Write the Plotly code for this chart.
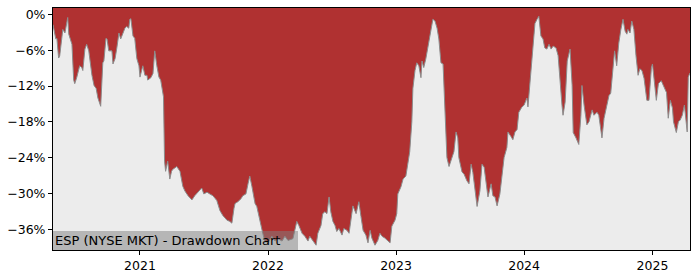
import plotly.graph_objects as go

# Drawdown series (percent)
dates = [
    "2020-04-28", "2020-05-06", "2020-05-09", "2020-05-14", "2020-05-17", "2020-05-23", "2020-05-26",
    "2020-06-01", "2020-06-06", "2020-06-09", "2020-06-12", "2020-06-18", "2020-06-21", "2020-06-26",
    "2020-06-29", "2020-07-05", "2020-07-13", "2020-07-19", "2020-07-22", "2020-07-28", "2020-08-02",
    "2020-08-08", "2020-08-17", "2020-08-23", "2020-08-29", "2020-09-03", "2020-09-11", "2020-09-17",
    "2020-09-20", "2020-09-26", "2020-09-29", "2020-10-04", "2020-10-13", "2020-10-16", "2020-10-22",
    "2020-10-27", "2020-11-02", "2020-11-07", "2020-11-13", "2020-11-19", "2020-11-24", "2020-11-30",
    "2020-12-03", "2020-12-06", "2020-12-12", "2020-12-17", "2020-12-23", "2020-12-29",
    "2021-01-01", "2021-01-06", "2021-01-09", "2021-01-15", "2021-01-21", "2021-01-23", "2021-02-01",
    "2021-02-07", "2021-02-10", "2021-02-12", "2021-02-18", "2021-02-24", "2021-03-01", "2021-03-04",
    "2021-03-07", "2021-03-09", "2021-03-12", "2021-03-15", "2021-03-21", "2021-03-27", "2021-04-01",
    "2021-04-04", "2021-04-16", "2021-04-25", "2021-05-03", "2021-05-09", "2021-05-18", "2021-05-29",
    "2021-06-06", "2021-06-15", "2021-06-26", "2021-07-02", "2021-07-11", "2021-07-19", "2021-07-28",
    "2021-08-08", "2021-08-17", "2021-08-25", "2021-09-06", "2021-09-14", "2021-09-20", "2021-09-26",
    "2021-09-29", "2021-10-07", "2021-10-16", "2021-10-21", "2021-10-30", "2021-11-05", "2021-11-10",
    "2021-11-16", "2021-11-25", "2021-11-30", "2021-12-06", "2021-12-12", "2021-12-17", "2021-12-23",
    "2022-01-01", "2022-01-12", "2022-01-21", "2022-01-29", "2022-02-10", "2022-02-18", "2022-02-27",
    "2022-03-13", "2022-03-21", "2022-03-24", "2022-03-30", "2022-04-08", "2022-04-16", "2022-04-25",
    "2022-04-30", "2022-05-09", "2022-05-18", "2022-05-23", "2022-06-01", "2022-06-06", "2022-06-12",
    "2022-06-18", "2022-06-24", "2022-06-29", "2022-07-05", "2022-07-11", "2022-07-16", "2022-07-22",
    "2022-07-31", "2022-08-05", "2022-08-14", "2022-08-20", "2022-08-28", "2022-08-31", "2022-09-09",
    "2022-09-14", "2022-09-17", "2022-09-23", "2022-09-29", "2022-10-07", "2022-10-13", "2022-10-19",
    "2022-10-24", "2022-11-02", "2022-11-10", "2022-11-16", "2022-11-22", "2022-11-30", "2022-12-09",
    "2022-12-15", "2022-12-20", "2022-12-29",
    "2023-01-03", "2023-01-06", "2023-01-15", "2023-01-21", "2023-01-29", "2023-02-04", "2023-02-09",
    "2023-02-15", "2023-02-18", "2023-02-24", "2023-03-01", "2023-03-07", "2023-03-13", "2023-03-16",
    "2023-03-21", "2023-03-27", "2023-04-02", "2023-04-08", "2023-04-13", "2023-04-16", "2023-04-22",
    "2023-04-28", "2023-05-03", "2023-05-09", "2023-05-15", "2023-05-20", "2023-05-26", "2023-06-01",
    "2023-06-09", "2023-06-15", "2023-06-21", "2023-06-26", "2023-06-29", "2023-07-08", "2023-07-14",
    "2023-07-22", "2023-07-28", "2023-08-03", "2023-08-08", "2023-08-14", "2023-08-20", "2023-08-28",
    "2023-09-03", "2023-09-09", "2023-09-14", "2023-09-20", "2023-09-29", "2023-10-04", "2023-10-10",
    "2023-10-16", "2023-10-24", "2023-10-30", "2023-11-05", "2023-11-13", "2023-11-16", "2023-11-25",
    "2023-11-30", "2023-12-06", "2023-12-12", "2023-12-17", "2023-12-26",
    "2024-01-01", "2024-01-09", "2024-01-12", "2024-01-21", "2024-01-26", "2024-02-01", "2024-02-07",
    "2024-02-12", "2024-02-18", "2024-02-24", "2024-02-29", "2024-03-06", "2024-03-12", "2024-03-18",
    "2024-03-24", "2024-04-01", "2024-04-07", "2024-04-13", "2024-04-18", "2024-04-21", "2024-04-27",
    "2024-05-03", "2024-05-09", "2024-05-11", "2024-05-17", "2024-05-20", "2024-05-28", "2024-06-03",
    "2024-06-05", "2024-06-11", "2024-06-14", "2024-06-20", "2024-06-28", "2024-07-04", "2024-07-13",
    "2024-07-18", "2024-07-27", "2024-08-01", "2024-08-07", "2024-08-10", "2024-08-16", "2024-08-24",
    "2024-08-30", "2024-09-04", "2024-09-10", "2024-09-15", "2024-09-21", "2024-09-27", "2024-10-03",
    "2024-10-09", "2024-10-15", "2024-10-20", "2024-10-23", "2024-10-29", "2024-11-03", "2024-11-09",
    "2024-11-15", "2024-11-21", "2024-11-26", "2024-12-02", "2024-12-08", "2024-12-16", "2024-12-22",
    "2024-12-29",
    "2025-01-01", "2025-01-06", "2025-01-12", "2025-01-18", "2025-01-26", "2025-02-01", "2025-02-10",
    "2025-02-15", "2025-02-21", "2025-02-27", "2025-03-02", "2025-03-10", "2025-03-16", "2025-03-21",
    "2025-03-27", "2025-04-02", "2025-04-10", "2025-04-13", "2025-04-18",
]

drawdown = [
    -1.7, -4.1, -4.0, -7.3, -7.0, -3.1, -2.5,
    -3.1, -0.9, -0.5, -3.3, -4.5, -5.0, -11.0,
    -11.6, -10.5, -8.6, -8.9, -9.4, -5.8, -5.0,
    -6.1, -10.2, -11.9, -12.4, -14.0, -15.4, -8.1,
    -7.8, -4.0, -4.1, -6.1, -6.1, -8.3, -7.4,
    -5.6, -3.1, -4.1, -3.1, -2.3, -2.0, -2.3,
    -0.8, -0.7, -3.6, -4.0, -7.4, -8.6,
    -10.5, -8.9, -8.6, -10.2, -10.2, -11.0, -10.6,
    -9.9, -6.6, -6.1, -8.6, -10.5, -11.0, -12.4,
    -13.3, -13.8, -24.6, -26.3, -24.6, -27.6, -26.3,
    -26.0, -25.5, -26.3, -28.8, -29.6, -30.4, -31.1,
    -30.4, -29.8, -29.1, -30.1, -29.8, -30.1, -30.4,
    -31.2, -32.9, -33.7, -34.5, -34.7, -35.0, -32.5,
    -31.7, -31.4, -30.9, -30.4, -30.1, -28.4, -27.1,
    -28.8, -31.7, -32.2, -33.9, -35.5, -36.7, -38.0,
    -38.3, -37.2, -38.0, -37.6, -38.0, -37.2, -37.9,
    -37.6, -35.5, -34.7, -35.4, -36.7, -37.2, -38.0,
    -37.2, -38.0, -38.7, -36.7, -35.4, -33.4, -33.1,
    -33.4, -30.6, -33.1, -34.7, -35.4, -36.4, -35.9,
    -37.0, -35.9, -36.2, -36.7, -33.7, -32.1, -33.4,
    -32.1, -31.4, -33.9, -36.2, -37.0, -38.3, -36.2,
    -37.5, -38.7, -37.9, -36.7, -37.2, -37.5, -38.0,
    -38.3, -35.5, -34.5,
    -33.4, -30.1, -28.9, -27.6, -27.1, -25.1, -23.0,
    -18.0, -12.4, -9.4, -8.1, -8.6, -10.6, -7.8,
    -8.9, -7.4, -5.3, -3.6, -2.0, -0.8, -1.1,
    -2.3, -4.1, -8.1, -8.3, -16.9, -24.0, -25.5,
    -24.0, -23.0, -19.7, -20.7, -24.0, -26.4, -26.8,
    -27.9, -28.4, -25.1, -26.5, -29.6, -32.2, -29.6,
    -25.1, -25.6, -28.4, -30.6, -28.4, -30.4, -30.6,
    -32.1, -30.1, -27.3, -24.0, -22.3, -19.7, -20.5,
    -21.0, -19.7, -19.3, -16.4, -15.5,
    -15.2, -14.0, -15.5, -9.8, -5.3, -1.5, -0.8,
    -0.3, -3.6, -4.1, -5.6, -5.8, -5.0, -5.8,
    -5.3, -5.6, -6.9, -12.4, -15.2, -16.9, -14.7,
    -7.8, -6.1, -5.8, -11.9, -19.8, -20.7, -21.8,
    -21.8, -16.9, -11.9, -15.2, -18.5, -18.0, -16.0,
    -16.9, -16.4, -16.9, -19.0, -20.7, -17.4, -15.2,
    -13.6, -13.2, -8.6, -6.1, -8.6, -4.8, -2.5,
    -0.8, -2.8, -3.3, -2.5, -3.1, -1.1, -2.5,
    -6.9, -10.2, -9.1, -9.4, -10.7, -14.4, -14.4,
    -8.9,
    -8.3, -10.7, -14.4, -11.6, -11.1, -11.9, -13.1,
    -17.4, -14.4, -15.7, -18.0, -19.8, -18.0, -17.7,
    -16.9, -15.2, -19.7, -10.5, -9.8,
]

y_tick_values = [0, -6, -12, -18, -24, -30, -36]
y_tick_labels = ["0%", "\u22126%", "\u221212%", "\u221218%", "\u221224%", "\u221230%", "\u221236%"]
x_tick_values = ["2021-01-01", "2022-01-01", "2023-01-01", "2024-01-01", "2025-01-01"]
x_tick_labels = ["2021", "2022", "2023", "2024", "2025"]

title_text = "ESP (NYSE MKT) - Drawdown Chart"

Y_TOP = 1.09
Y_BOTTOM = -39.5
RED = "#b03131"
BG = "#ececec"

fig = go.Figure()
# invisible ceiling at the top of the axes, the red area fills from it down to the drawdown line
fig.add_trace(go.Scatter(x=dates, y=[Y_TOP] * len(dates), mode="lines",
                         line=dict(width=0, color=RED), hoverinfo="skip", showlegend=False))
fig.add_trace(go.Scatter(x=dates, y=drawdown, mode="lines", fill="tonexty",
                         fillcolor=RED, line=dict(color="#8c8c8c", width=1),
                         showlegend=False))

tick_font = dict(family="DejaVu Sans", size=12.5, color="black")

fig.update_layout(
    width=700, height=280,
    margin=dict(l=53, r=10, t=7, b=28),
    paper_bgcolor="white",
    plot_bgcolor=BG,
    xaxis=dict(
        range=[dates[0], dates[-1]],
        tickvals=x_tick_values, ticktext=x_tick_labels,
        ticks="outside", ticklen=4, tickwidth=1, tickcolor="black",
        showgrid=False, zeroline=False,
        showline=True, linecolor="black", linewidth=1, mirror=True,
        tickfont=tick_font,
    ),
    yaxis=dict(
        range=[Y_BOTTOM, Y_TOP],
        tickvals=y_tick_values, ticktext=y_tick_labels,
        ticks="outside", ticklen=4, tickwidth=1, tickcolor="black",
        showgrid=False, zeroline=False,
        showline=True, linecolor="black", linewidth=1, mirror=True,
        tickfont=tick_font,
    ),
    annotations=[dict(
        text=title_text, xref="paper", yref="paper", x=0, y=0,
        xanchor="left", yanchor="bottom", showarrow=False, align="left",
        font=dict(family="DejaVu Sans", size=13, color="black"),
        bgcolor="rgba(128,128,128,0.5)", borderpad=2, borderwidth=0,
        width=241, height=15,
    )],
)

fig.write_html("out.html")
